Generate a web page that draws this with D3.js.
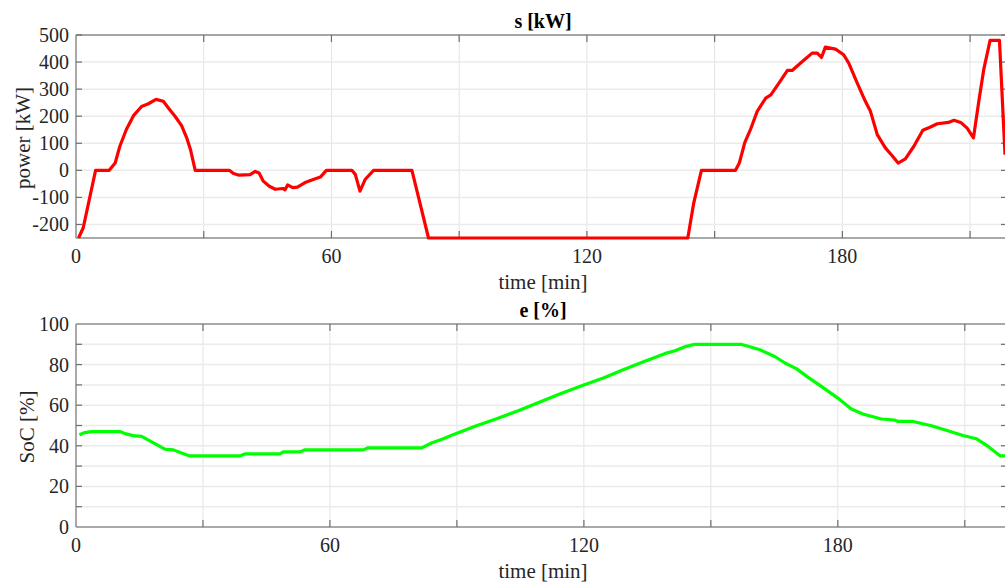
<!DOCTYPE html>
<html>
<head>
<meta charset="utf-8">
<script src="https://cdn.jsdelivr.net/npm/d3@7"></script>
<style>
  body { margin: 0; background: #fff; }
  svg { display: block; font-family: "Liberation Serif", "Times New Roman", serif; }
</style>
</head>
<body>
<svg id="chart"></svg>
<script>
// power series [time min, kW]
const powerTime = [0.6, 1.7, 4.6, 7.8, 9.2, 10.3, 11.8, 13.5, 15.4, 17, 18.8, 20.5, 21.7, 23.3, 24.8, 26, 26.9, 28,
  36, 37, 38.3, 40.9, 42.1, 43, 44, 45.4, 46.8, 48.6, 49.1, 49.7, 50.9, 52, 53.8, 55.4, 57.4, 58.8,
  64.8, 65.6, 66.7, 67.9, 69.9, 78.9, 82.8, 143.7, 145.1, 146.9, 154.9, 155.8, 157.1, 158.4, 160, 162, 163.2,
  165.1, 167.1, 168.2, 170.6, 172.9, 174.1, 175.1, 176, 178.4, 180.3, 181.5, 183.5, 185.4, 186.6, 188.2,
  190.1, 191.7, 193.1, 194.8, 196.8, 198.9, 200.7, 202.3, 204.9, 206.2, 207.8, 209.3, 210.8, 212.1, 213.2,
  214.7, 216.9, 218.2];
const powerKW = [-250, -212, 0, 0, 27, 89, 150, 202, 236, 246, 262, 255, 230, 199, 165, 120, 76, 0,
  0, -12, -18, -16, -4, -10, -40, -59, -70, -67, -72, -54, -64, -62, -45, -36, -25, 0,
  0, -15, -77, -34, 0, 0, -250, -250, -120, 0, 0, 27, 103, 150, 218, 267, 279,
  322, 369, 369, 402, 433, 433, 417, 455, 448, 427, 396, 322, 255, 218, 132,
  83, 54, 27, 42, 89, 148, 160, 172, 177, 185, 177, 156, 120, 261, 372,
  480, 480, 58];

// state of charge series [time min, %]
const socTime = [0.8, 2.1, 3.6, 10.4, 11.6, 13.5, 15.5, 18.3, 21, 23, 24.9, 26.9, 38.7, 39.9, 48.2, 49, 52.9, 54.1,
  67.9, 69, 81.7, 84, 86.8, 89.1, 94.3, 99.4, 104.5, 109.6, 114.3, 119.8, 124.6, 129.3, 134.4, 139.1,
  141.5, 144.2, 146.2, 157.1, 158.8, 161.6, 165.1, 167.5, 170.2, 173, 176.1, 180, 183.2, 185.9, 190.3,
  193.4, 194.2, 197.8, 202.1, 206, 209.6, 212.7, 215.5, 218.4, 219.5];
const socPct = [45.5, 46.5, 47, 47, 46, 45, 44.6, 41.4, 38.4, 38, 36.4, 35, 35, 36, 36, 37, 37, 38,
  38, 39, 39, 41.4, 43.5, 45.5, 49.6, 53.3, 57.3, 61.6, 65.5, 69.8, 73.4, 77.5, 81.6, 85.4,
  86.8, 89, 90, 90, 89, 87.3, 84, 80.8, 78, 73.7, 69.3, 63.5, 58.1, 55.7, 53.2,
  52.7, 52, 52, 49.9, 47.4, 45.1, 43.5, 39.7, 35, 35];

const xTicks = [0, 30, 60, 90, 120, 150, 180, 210];
const xLabels = [0, 60, 120, 180];
const powerTicks = [-200, -100, 0, 100, 200, 300, 400, 500];
const socTicks = [0, 20, 40, 60, 80, 100];
const socGrid = [10, 20, 30, 40, 50, 60, 70, 80, 90];

const width = 1005, height = 583;
const left = 76, right = 1005;
const svg = d3.select("#chart").attr("width", width).attr("height", height);

function drawPanel(cfg) {
  const x = d3.scaleLinear().domain([0, cfg.xMax]).range([left, right]);
  const y = d3.scaleLinear().domain(cfg.yDomain).range([cfg.bottom, cfg.top]);
  const g = svg.append("g");
  const axisColor = "#8c8c8c", tickColor = "#6e6e6e";

  // grid
  g.selectAll(".gx").data(xTicks.slice(1)).enter().append("line")
    .attr("x1", d => x(d)).attr("x2", d => x(d))
    .attr("y1", cfg.top).attr("y2", cfg.bottom)
    .attr("stroke", "#e3e3e3").attr("stroke-width", 1);
  g.selectAll(".gy").data(cfg.grid).enter().append("line")
    .attr("x1", left).attr("x2", right)
    .attr("y1", d => y(d)).attr("y2", d => y(d))
    .attr("stroke", "#ebebeb").attr("stroke-width", 1.5);

  // box
  g.append("line").attr("x1", left).attr("x2", right).attr("y1", cfg.top).attr("y2", cfg.top)
    .attr("stroke", axisColor).attr("stroke-width", 1.5);
  g.append("line").attr("x1", left).attr("x2", right).attr("y1", cfg.bottom).attr("y2", cfg.bottom)
    .attr("stroke", axisColor).attr("stroke-width", 1.5);
  g.append("line").attr("x1", left).attr("x2", left).attr("y1", cfg.top).attr("y2", cfg.bottom)
    .attr("stroke", axisColor).attr("stroke-width", 1.5);

  // inner ticks
  g.selectAll(".tb").data(xTicks.slice(1)).enter().append("line")
    .attr("x1", d => x(d)).attr("x2", d => x(d))
    .attr("y1", cfg.bottom).attr("y2", cfg.bottom - 7)
    .attr("stroke", tickColor).attr("stroke-width", 1.2);
  g.selectAll(".tt").data(xTicks.slice(1)).enter().append("line")
    .attr("x1", d => x(d)).attr("x2", d => x(d))
    .attr("y1", cfg.top).attr("y2", cfg.top + 7)
    .attr("stroke", tickColor).attr("stroke-width", 1.2);
  g.selectAll(".tl").data(cfg.grid).enter().append("line")
    .attr("x1", left).attr("x2", left + 6)
    .attr("y1", d => y(d)).attr("y2", d => y(d))
    .attr("stroke", tickColor).attr("stroke-width", 1.2);
  g.selectAll(".tr").data(cfg.grid).enter().append("line")
    .attr("x1", right - 4).attr("x2", right)
    .attr("y1", d => y(d)).attr("y2", d => y(d))
    .attr("stroke", tickColor).attr("stroke-width", 1.2);

  // data line (on top of axes)
  const clipId = "clip" + cfg.id;
  svg.append("clipPath").attr("id", clipId).append("rect")
    .attr("x", left).attr("y", cfg.top - 3).attr("width", right - left).attr("height", cfg.bottom - cfg.top + 6);
  const pts = cfg.xs.map((t, i) => [t, cfg.ys[i]]);
  g.append("path")
    .datum(pts)
    .attr("clip-path", `url(#${clipId})`)
    .attr("fill", "none")
    .attr("stroke", cfg.color)
    .attr("stroke-width", 3.2)
    .attr("stroke-linejoin", "round")
    .attr("d", d3.line().x(d => x(d[0])).y(d => y(d[1])));

  // tick labels
  g.selectAll(".xl").data(xLabels).enter().append("text")
    .attr("x", d => x(d)).attr("y", cfg.bottom + 25)
    .attr("text-anchor", "middle").attr("font-size", 20).attr("fill", "#262626")
    .text(d => d);
  g.selectAll(".yl").data(cfg.ticks).enter().append("text")
    .attr("x", 69).attr("y", d => y(d) + 7)
    .attr("text-anchor", "end").attr("font-size", 20).attr("fill", "#262626")
    .text(d => d);

  // labels
  g.append("text").attr("x", 543).attr("y", cfg.bottom + 51)
    .attr("text-anchor", "middle").attr("font-size", 21).attr("fill", "#262626")
    .text("time [min]");
  g.append("text").attr("transform", `translate(${cfg.ylx},${cfg.yly}) rotate(-90)`)
    .attr("text-anchor", "middle").attr("font-size", 21).attr("fill", "#262626")
    .text(cfg.ylabel);
  g.append("text").attr("x", 543).attr("y", cfg.top - 7)
    .attr("text-anchor", "middle").attr("font-size", 20).attr("font-weight", "bold").attr("fill", "#000")
    .text(cfg.title);
}

drawPanel({
  id: 1, top: 35, bottom: 238, yDomain: [-250, 500], xMax: 218.2,
  grid: powerTicks, ticks: powerTicks,
  xs: powerTime, ys: powerKW, color: "#ff0000",
  title: "s [kW]", ylabel: "power [kW]", ylx: 30, yly: 138
});

drawPanel({
  id: 2, top: 324, bottom: 527, yDomain: [0, 100], xMax: 219.5,
  grid: socGrid, ticks: socTicks,
  xs: socTime, ys: socPct, color: "#00ff00",
  title: "e [%]", ylabel: "SoC [%]", ylx: 34, yly: 427
});
</script>
</body>
</html>
